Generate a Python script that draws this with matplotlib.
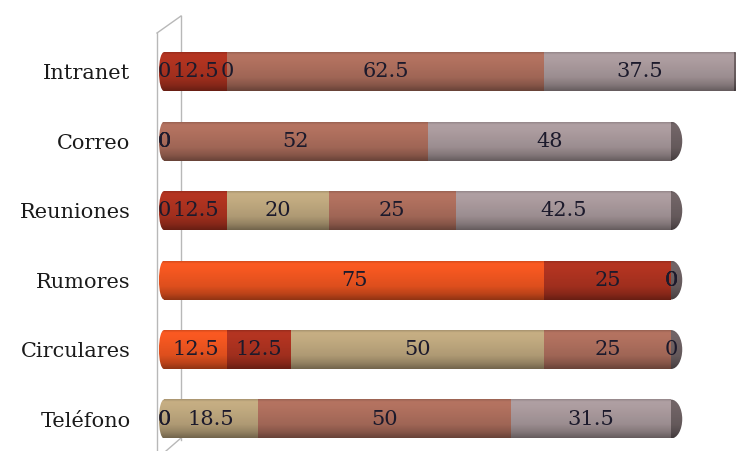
import numpy as np
import matplotlib.pyplot as plt
from matplotlib.patches import Ellipse
from matplotlib.colors import to_rgb
from matplotlib.lines import Line2D

# ── data ─────────────────────────────────────────────────────────────────────
categories = ["Teléfono", "Circulares", "Rumores", "Reuniones", "Correo", "Intranet"]
s1 = [0, 12.5, 75, 0, 0, 0]        # orange
s2 = [0, 12.5, 25, 12.5, 0, 12.5]  # dark red
s3 = [18.5, 50, 0, 20, 0, 0]       # tan
s4 = [50, 25, 0, 25, 52, 62.5]     # brown
s5 = [31.5, 0, 0, 42.5, 48, 37.5]  # grey
series = [s1, s2, s3, s4, s5]
colors = ["#e9531f", "#a8311f", "#b8a27a", "#a86b5a", "#a39497"]
cap_color = "#6a5e60"

plt.rcParams["font.family"] = ["DejaVu Serif"]

fig = plt.figure(figsize=(7.36, 4.51), dpi=100)
ax = fig.add_axes([157 / 736, 0, 1 - 157 / 736, 1])
ax.set_xlim(-1.38, 112.8)
ax.set_ylim(-0.46, 6.03)

h = 0.56
# vertical shading profile of a cylinder (top → bottom)
t = np.linspace(0, 1, 64)
shade = np.interp(t, [0, 0.06, 0.2, 0.45, 0.65, 0.85, 1.0],
                  [0.92, 1.08, 1.06, 1.0, 0.95, 0.80, 0.62])


def shaded(ax, x0, x1, y, c, clip=None, z=2):
    rgb = np.clip(np.array(to_rgb(c))[None, :] * shade[:, None], 0, 1)
    img = np.repeat(rgb[:, None, :], 2, axis=1)
    im = ax.imshow(img, extent=[x0, x1, y - h / 2, y + h / 2], aspect="auto",
                   interpolation="bilinear", origin="upper", zorder=z)
    if clip is not None:
        im.set_clip_path(clip)
    return im


ypos = np.arange(len(categories))
left = np.zeros(len(categories))
for vals, c in zip(series, colors):
    vals = np.array(vals, dtype=float)
    ax.barh(ypos, vals, left=left, height=h, color=c, linewidth=0, zorder=1)
    for y, l, v in zip(ypos, left, vals):
        if v > 0:
            shaded(ax, l, l + v, y, c)
    left += vals

# rounded left end and dark right end face
for i, y in enumerate(ypos):
    first = next(c for vals, c in zip(series, colors) if vals[i] > 0)
    ell = Ellipse((0, y), 2.0, h, facecolor="none", edgecolor="none")
    ax.add_patch(ell)
    shaded(ax, -1.0, 1.0, y, first, clip=ell, z=1.5)
    end = Ellipse((left[i], y), 4.4, h, facecolor="none", edgecolor="none")
    ax.add_patch(end)
    shaded(ax, left[i], left[i] + 2.2, y, cap_color, clip=end, z=3.5)

# value labels at segment centres
left = np.zeros(len(categories))
for vals in series:
    vals = np.array(vals, dtype=float)
    for y, l, v in zip(ypos, left, vals):
        ax.text(l + v / 2, y, f"{v:g}", ha="center", va="center",
                fontsize=15, color="#1c1a2c", zorder=5)
    left += vals

# back wall outline
for xs, ys in [((157, 157), (33, 451)), ((157, 181), (33, 16)),
               ((181, 181), (16, 440)), ((181, 166), (438, 451))]:
    fig.add_artist(Line2D(np.array(xs) / 736, 1 - np.array(ys) / 451,
                          color="#b8b8b8", linewidth=1.0, zorder=0))

ax.set_yticks(ypos)
ax.set_yticklabels(categories, fontsize=15, color="#1a1a1a")
ax.tick_params(axis="y", length=0, pad=19)
ax.set_xticks([])
for s in ax.spines.values():
    s.set_visible(False)
ax.patch.set_alpha(0)

fig.savefig("out.png", dpi=100)
